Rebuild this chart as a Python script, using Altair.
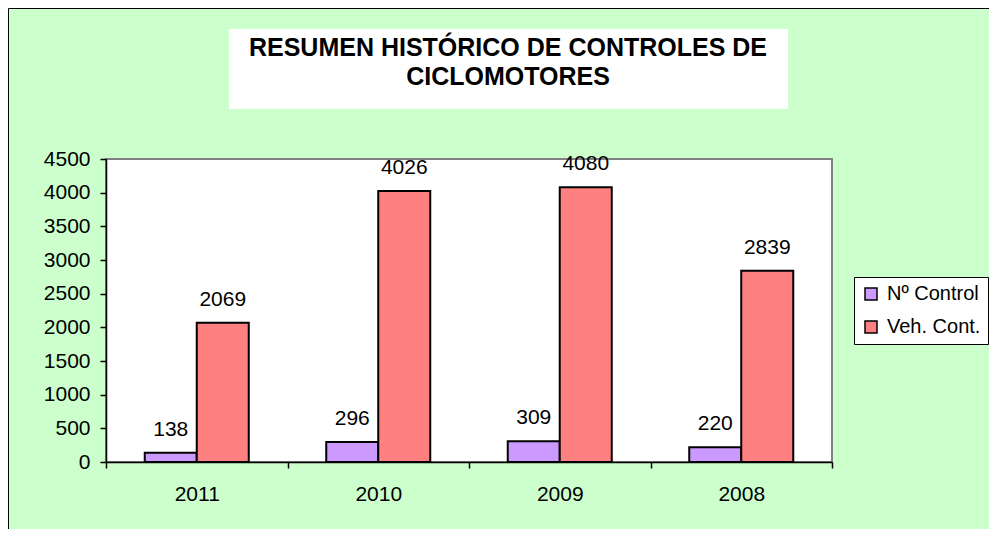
import altair as alt
import pandas as pd

years = ["2011", "2010", "2009", "2008"]
series_names = ["Nº Control", "Veh. Cont."]
n_control = [138, 296, 309, 220]
veh_cont = [2069, 4026, 4080, 2839]
colors = ["#CC99FF", "#FF8080"]
y_ticks = [0, 500, 1000, 1500, 2000, 2500, 3000, 3500, 4000, 4500]
title_lines = ["RESUMEN HISTÓRICO DE CONTROLES DE", "CICLOMOTORES"]

rows = []
for i, yr in enumerate(years):
    rows.append({"year": yr, "series": series_names[0], "value": n_control[i]})
    rows.append({"year": yr, "series": series_names[1], "value": veh_cont[i]})
df = pd.DataFrame(rows)

FONT = "Arial, Liberation Sans, sans-serif"
W, H = 726, 303
PAD = {"left": 98, "top": 151, "right": 157, "bottom": 67}

x_enc = alt.X(
    "year:N", sort=years,
    scale=alt.Scale(paddingInner=0, paddingOuter=0),
    axis=alt.Axis(title=None, labelAngle=0, tickBand="extent", labelPadding=15),
)
xo = alt.XOffset("series:N", sort=series_names,
                 scale=alt.Scale(paddingInner=0, paddingOuter=0.745))
y_enc = alt.Y(
    "value:Q",
    scale=alt.Scale(domain=[0, 4500], nice=False),
    axis=alt.Axis(title=None, values=y_ticks, grid=False, labelPadding=10,
                  format="d"),
)

bars = alt.Chart(df).mark_bar(stroke="black", strokeWidth=2).encode(
    x=x_enc,
    xOffset=xo,
    y=y_enc,
    color=alt.Color(
        "series:N", sort=series_names,
        scale=alt.Scale(domain=series_names, range=colors),
        legend=alt.Legend(
            title=None, orient="none", legendX=748, legendY=118,
            direction="vertical", symbolType="square", symbolSize=144,
            symbolStrokeColor="black", symbolStrokeWidth=1.5,
            labelFontSize=20, labelFont=FONT, labelColor="black",
            padding=7, rowPadding=13, strokeColor="black", fillColor="white",
            labelOffset=6,
        ),
    ),
)

labels = alt.Chart(df).mark_text(
    baseline="alphabetic", dy=-17, fontSize=21, font=FONT, color="black"
).encode(x=x_enc, xOffset=xo, y=y_enc, text="value:Q")

one = alt.Data(values=[{}])

border = alt.Chart(one).mark_rect(
    filled=False, stroke="black", strokeWidth=1, clip=False
).encode(
    x=alt.value(-97.5), x2=alt.value(W + PAD["right"] + 20),
    y=alt.value(-150.5), y2=alt.value(H + PAD["bottom"] + 20),
)

title_box = alt.Chart(one).mark_rect(fill="white", clip=False).encode(
    x=alt.value(123), x2=alt.value(682), y=alt.value(-130), y2=alt.value(-50)
)

title_text = alt.Chart(one).mark_text(
    text=title_lines, fontSize=25, fontWeight="bold", font=FONT,
    align="center", baseline="alphabetic", lineHeight=29, color="black",
    clip=False,
).encode(x=alt.value(402), y=alt.value(-103))

chart = alt.layer(border, title_box, title_text, bars, labels).properties(
    width=W, height=H, padding=PAD,
    autosize=alt.AutoSizeParams(type="none"),
    background="#CCFFCC",
).configure_view(
    fill="white", stroke="#808080", strokeWidth=2
).configure_axis(
    domainColor="black", domainWidth=1.5, tickColor="black", tickSize=6,
    tickWidth=1.5, labelFontSize=21, labelFont=FONT, labelColor="black",
)

chart.save("out.html", embed_options={"renderer": "svg", "actions": False})
